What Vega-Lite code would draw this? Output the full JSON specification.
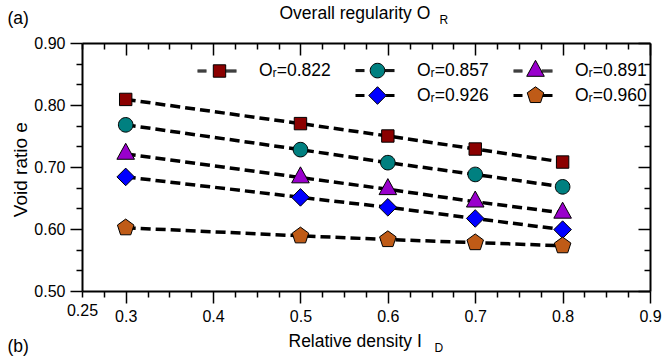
{
  "$schema": "https://vega.github.io/schema/vega-lite/v6.json",
  "width": 568,
  "height": 248,
  "autosize": "none",
  "padding": {"left": 82, "top": 43, "right": 13, "bottom": 69},
  "background": "white",
  "config": {
    "font": "Liberation Sans",
    "view": {"stroke": null},
    "axis": {
      "grid": false,
      "labelColor": "black",
      "titleColor": "black",
      "tickColor": "black",
      "domainColor": "black",
      "titleFontWeight": "normal",
      "labelFontSize": 16,
      "titleFontSize": 17.5,
      "domainWidth": 2,
      "tickWidth": 1.5,
      "labelOverlap": false,
      "labelFlush": false,
      "labelBound": false,
      "labelPadding": 5
    },
    "legend": {
      "orient": "none",
      "direction": "horizontal",
      "legendX": 127,
      "legendY": 17,
      "columns": 3,
      "symbolSize": 400,
      "labelOffset": 29,
      "rowPadding": 4,
      "columnPadding": 22,
      "labelFontSize": 17.5,
      "labelFont": "Liberation Sans",
      "labelColor": "black",
      "symbolStrokeColor": "black",
      "symbolStrokeWidth": 1,
      "symbolOpacity": 1,
      "padding": 0
    }
  },
  "data": {
    "values": [
      {"OR": "0.822", "ID": 0.3, "e": 0.809},
      {"OR": "0.822", "ID": 0.5, "e": 0.770},
      {"OR": "0.822", "ID": 0.6, "e": 0.750},
      {"OR": "0.822", "ID": 0.7, "e": 0.729},
      {"OR": "0.822", "ID": 0.8, "e": 0.708},
      {"OR": "0.857", "ID": 0.3, "e": 0.768},
      {"OR": "0.857", "ID": 0.5, "e": 0.728},
      {"OR": "0.857", "ID": 0.6, "e": 0.707},
      {"OR": "0.857", "ID": 0.7, "e": 0.688},
      {"OR": "0.857", "ID": 0.8, "e": 0.668},
      {"OR": "0.891", "ID": 0.3, "e": 0.721},
      {"OR": "0.891", "ID": 0.5, "e": 0.683},
      {"OR": "0.891", "ID": 0.6, "e": 0.664},
      {"OR": "0.891", "ID": 0.7, "e": 0.644},
      {"OR": "0.891", "ID": 0.8, "e": 0.626},
      {"OR": "0.926", "ID": 0.3, "e": 0.684},
      {"OR": "0.926", "ID": 0.5, "e": 0.651},
      {"OR": "0.926", "ID": 0.6, "e": 0.635},
      {"OR": "0.926", "ID": 0.7, "e": 0.617},
      {"OR": "0.926", "ID": 0.8, "e": 0.599},
      {"OR": "0.960", "ID": 0.3, "e": 0.602},
      {"OR": "0.960", "ID": 0.5, "e": 0.589},
      {"OR": "0.960", "ID": 0.6, "e": 0.583},
      {"OR": "0.960", "ID": 0.7, "e": 0.578},
      {"OR": "0.960", "ID": 0.8, "e": 0.573}
    ]
  },
  "resolve": {
    "scale": {"fill": "independent", "shape": "independent"},
    "axis": {"x": "independent", "y": "independent"}
  },
  "layer": [
    {
      "mark": {"type": "line", "color": "black", "strokeWidth": 3.5, "strokeDash": [10, 5]},
      "encoding": {
        "x": {
          "field": "ID", "type": "quantitative",
          "scale": {"domain": [0.25, 0.9], "nice": false, "zero": false},
          "axis": {
            "orient": "bottom",
            "values": [0.25, 0.275, 0.3, 0.325, 0.35, 0.375, 0.4, 0.425, 0.45, 0.475, 0.5, 0.525, 0.55, 0.575, 0.6, 0.625, 0.65, 0.675, 0.7, 0.725, 0.75, 0.775, 0.8, 0.825, 0.85, 0.875, 0.9],
            "labelExpr": "(abs(datum.value*10 - round(datum.value*10)) < 0.001 || abs(datum.value - 0.25) < 0.001) ? format(datum.value, '.2~f') : ''",
            "tickSize": {"condition": {"test": "abs(datum.value*10 - round(datum.value*10)) < 0.001", "value": 12}, "value": 6},
            "title": "Relative density  I",
            "titleX": 206,
            "titleY": 55.7,
            "titleAlign": "left",
            "titleBaseline": "alphabetic",
            "titleAngle": 0
          }
        },
        "y": {
          "field": "e", "type": "quantitative",
          "scale": {"domain": [0.5, 0.9], "nice": false, "zero": false},
          "axis": {
            "orient": "left",
            "values": [0.5, 0.53333, 0.56667, 0.6, 0.63333, 0.66667, 0.7, 0.73333, 0.76667, 0.8, 0.83333, 0.86667, 0.9],
            "labelExpr": "abs(datum.value*10 - round(datum.value*10)) < 0.001 ? format(datum.value, '.2f') : ''",
            "tickSize": {"condition": {"test": "abs(datum.value*10 - round(datum.value*10)) < 0.001", "value": 12}, "value": 6},
            "title": "Void ratio   e",
            "titleFontSize": 19,
            "titleX": -55.3,
            "titleY": 173.7,
            "titleAlign": "left",
            "titleBaseline": "alphabetic",
            "titleAngle": 270
          }
        },
        "detail": {"field": "OR", "type": "nominal"}
      }
    },
    {
      "mark": {"type": "point", "filled": true, "stroke": "black", "strokeWidth": 1, "opacity": 1, "size": 400},
      "encoding": {
        "x": {
          "field": "ID", "type": "quantitative",
          "scale": {"domain": [0.25, 0.9], "nice": false, "zero": false},
          "axis": {
            "orient": "top",
            "values": [0.25, 0.275, 0.3, 0.325, 0.35, 0.375, 0.4, 0.425, 0.45, 0.475, 0.5, 0.525, 0.55, 0.575, 0.6, 0.625, 0.65, 0.675, 0.7, 0.725, 0.75, 0.775, 0.8, 0.825, 0.85, 0.875, 0.9],
            "labels": false,
            "tickSize": {"condition": {"test": "abs(datum.value*10 - round(datum.value*10)) < 0.001", "value": -12}, "value": -6},
            "title": "D",
            "titleFontSize": 12,
            "titleX": 352,
            "titleY": 308,
            "titleAlign": "left",
            "titleBaseline": "alphabetic",
            "titleAngle": 0
          }
        },
        "y": {
          "field": "e", "type": "quantitative",
          "scale": {"domain": [0.5, 0.9], "nice": false, "zero": false},
          "axis": {
            "orient": "right",
            "values": [0.5, 0.53333, 0.56667, 0.6, 0.63333, 0.66667, 0.7, 0.73333, 0.76667, 0.8, 0.83333, 0.86667, 0.9],
            "labels": false,
            "tickSize": {"condition": {"test": "abs(datum.value*10 - round(datum.value*10)) < 0.001", "value": -12}, "value": -6},
            "title": "R",
            "titleFontSize": 12,
            "titleX": -211,
            "titleY": -20,
            "titleAlign": "left",
            "titleBaseline": "alphabetic",
            "titleAngle": 0
          }
        },
        "fill": {
          "field": "OR", "type": "nominal",
          "scale": {"domain": ["0.822", "0.857", "0.891", "0.926", "0.960"], "range": ["#8B0000", "#008080", "#9900CC", "#0000FF", "#BF5B17"]},
          "legend": null
        },
        "shape": {
          "field": "OR", "type": "nominal",
          "scale": {
            "domain": ["0.822", "0.857", "0.891", "0.926", "0.960"],
            "range": [
              "M-0.62,-0.62L0.62,-0.62L0.62,0.62L-0.62,0.62Z",
              "M0.73,0A0.73,0.73,0,1,1,-0.73,0A0.73,0.73,0,1,1,0.73,0Z",
              "M0,-1.07L0.88,0.53L-0.88,0.53Z",
              "M0,-0.88L0.88,0L0,0.88L-0.88,0Z",
              "M0,-0.87L0.827,-0.269L0.511,0.704L-0.511,0.704L-0.827,-0.269Z"
            ]
          },
          "legend": null
        }
      }
    },
    {
      "transform": [{"filter": "false"}],
      "mark": {"type": "point", "filled": true, "stroke": "black", "strokeWidth": 1, "opacity": 1, "size": 400},
      "encoding": {
        "x": {
          "field": "ID", "type": "quantitative",
          "scale": {"domain": [0.25, 0.9], "nice": false, "zero": false},
          "axis": {
            "orient": "bottom", "domain": false, "ticks": false, "labels": false,
            "title": "(b)", "titleX": -75, "titleY": 60.5,
            "titleAlign": "left", "titleBaseline": "alphabetic", "titleAngle": 0
          }
        },
        "y": {
          "field": "e", "type": "quantitative",
          "scale": {"domain": [0.5, 0.9], "nice": false, "zero": false},
          "axis": {
            "orient": "left", "domain": false, "ticks": false, "labels": false,
            "title": "(a)", "titleX": -75, "titleY": -19.5,
            "titleAlign": "left", "titleBaseline": "alphabetic", "titleAngle": 0
          }
        },
        "fill": {
          "field": "OR", "type": "nominal",
          "scale": {"domain": ["0.822", "0.857", "0.891", "blank", "0.926", "0.960"], "range": ["#8B0000", "#008080", "#9900CC", "transparent", "#0000FF", "#BF5B17"]},
          "legend": {
            "title": null, "symbolSize": 400, "direction": "horizontal", "columns": 3,
            "labelExpr": "datum.label == 'blank' ? '' : 'Oᵣ=' + datum.label",
            "encode": {"symbols": {"update": {"stroke": {"value": "black"}, "strokeWidth": {"value": 1}, "opacity": {"value": 1}}}}
          }
        },
        "shape": {
          "field": "OR", "type": "nominal",
          "scale": {
            "domain": ["0.822", "0.857", "0.891", "blank", "0.926", "0.960"],
            "range": [
              "M-0.62,-0.62L0.62,-0.62L0.62,0.62L-0.62,0.62ZM-2.2,-0.1L-1.3,-0.1M-2.2,0L-1.3,0M-2.2,0.1L-1.3,0.1M0.62,-0.1L1.7,-0.1M0.62,0L1.7,0M0.62,0.1L1.7,0.1",
              "M0.73,0A0.73,0.73,0,1,1,-0.73,0A0.73,0.73,0,1,1,0.73,0ZM-2.2,-0.1L-1.3,-0.1M-2.2,0L-1.3,0M-2.2,0.1L-1.3,0.1M0.73,-0.1L1.7,-0.1M0.73,0L1.7,0M0.73,0.1L1.7,0.1",
              "M0,-1.07L0.88,0.53L-0.88,0.53ZM-2.2,-0.1L-1.3,-0.1M-2.2,0L-1.3,0M-2.2,0.1L-1.3,0.1M0.62,-0.1L1.7,-0.1M0.6,0L1.7,0M0.58,0.1L1.7,0.1",
              "M0,0",
              "M0,-0.88L0.88,0L0,0.88L-0.88,0ZM-2.2,-0.1L-1.3,-0.1M-2.2,0L-1.3,0M-2.2,0.1L-1.3,0.1M0.8,-0.1L1.7,-0.1M0.88,0L1.7,0M0.8,0.1L1.7,0.1",
              "M0,-0.87L0.827,-0.269L0.511,0.704L-0.511,0.704L-0.827,-0.269ZM-2.2,-0.1L-1.3,-0.1M-2.2,0L-1.3,0M-2.2,0.1L-1.3,0.1M0.76,-0.1L1.7,-0.1M0.74,0L1.7,0M0.73,0.1L1.7,0.1"
            ]
          },
          "legend": {
            "title": null, "symbolSize": 400, "direction": "horizontal", "columns": 3,
            "labelExpr": "datum.label == 'blank' ? '' : 'Oᵣ=' + datum.label",
            "encode": {"symbols": {"update": {"stroke": {"value": "black"}, "strokeWidth": {"value": 1}, "opacity": {"value": 1}}}}
          }
        }
      }
    },
    {
      "transform": [{"filter": "false"}],
      "mark": {"type": "point"},
      "encoding": {
        "x": {
          "field": "ID", "type": "quantitative",
          "scale": {"domain": [0.25, 0.9], "nice": false, "zero": false},
          "axis": {
            "orient": "top", "domain": false, "ticks": false, "labels": false,
            "title": "Overall regularity  O", "titleX": 197, "titleY": -24.7,
            "titleAlign": "left", "titleBaseline": "alphabetic", "titleAngle": 0
          }
        }
      }
    }
  ]
}
